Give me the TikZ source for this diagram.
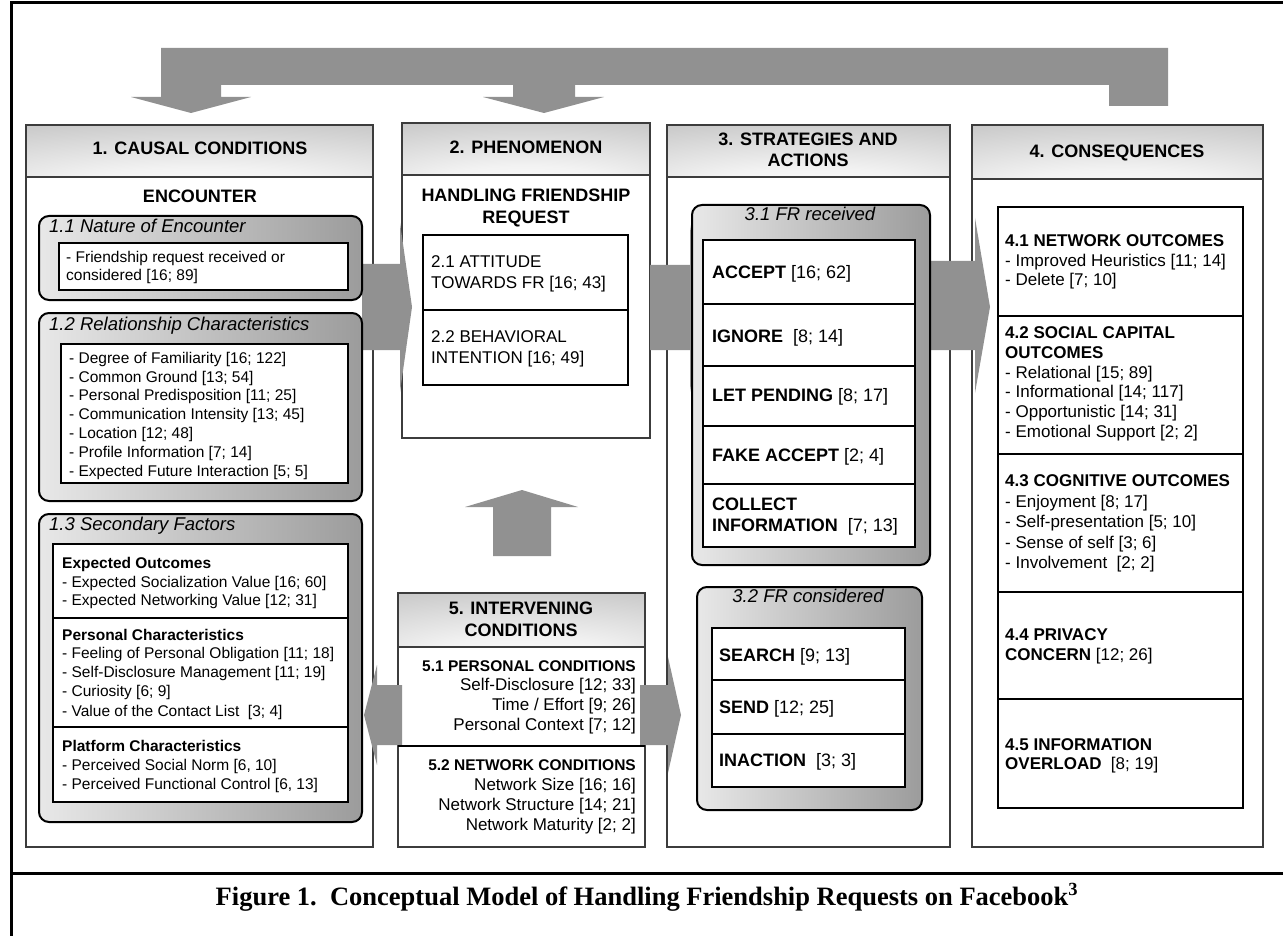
\documentclass[tikz,border=0pt]{standalone}
\usepackage{fontspec}
\setmainfont{Liberation Sans}
\newfontfamily\serifcap{Liberation Serif}
\usetikzlibrary{calc}
\definecolor{arrowgray}{RGB}{145,145,145}
\definecolor{linegray}{RGB}{60,60,60}
\pgfdeclareradialshading{hdrshade}{\pgfpoint{0bp}{-45bp}}{color(0bp)=(white); color(20bp)=(gray!10); color(50bp)=(gray!40); color(80bp)=(gray!68); color(100bp)=(gray!72)}
\newcommand\bx[6]{\node[#1, inner sep=0, outer sep=0, anchor=north west, minimum width={(#5-#3)*1pt}, minimum height={(#6-#4)*1pt}] (#2) at (#3,#4) {};}
\tikzset{
  colbox/.style={draw=linegray, line width=1.2pt, fill=white},
  hdr/.style={draw=linegray, line width=1.2pt, shade, shading=hdrshade},
  rbox/.style={draw=black, line width=2pt, rounded corners=10pt, left color=gray!18, right color=gray!78},
  ibox/.style={draw=black, line width=1.1pt, fill=white},
  ln/.style={draw=black, line width=1.1pt},
  arr/.style={fill=arrowgray, draw=none},
  frame/.style={draw=black, line width=3pt},
  hdrtxt/.style={font=\fontsize{18}{21.6}\selectfont\bfseries, inner sep=0, anchor=base},
  ttl/.style={font=\fontsize{18.5}{22}\selectfont\itshape, inner sep=0, anchor=base west},
  b15/.style={font=\fontsize{15.5}{18.6}\selectfont, inner sep=0, anchor=base west},
  b17/.style={font=\fontsize{17}{20.4}\selectfont, inner sep=0, anchor=base west},
  b18/.style={font=\fontsize{18}{21.6}\selectfont, inner sep=0, anchor=base west},
  r17/.style={font=\fontsize{17}{20.4}\selectfont, inner sep=0, anchor=base east},
}
\begin{document}
\begin{tikzpicture}[x=1pt,y=-1pt]
\useasboundingbox[fill=white] (0,0) rectangle (1283,936);
% frame
\draw[frame] (11,936) -- (11,3) -- (1283,3);
\draw[frame] (11,873) -- (1283,873);
% top feedback arrow
\fill[arr] (161,48) -- (1168,48) -- (1168,106) -- (1109,106) -- (1109,85) -- (575,85) -- (575,97) -- (604,97) -- (544,113) -- (483,97) -- (513,97) -- (513,85) -- (221,85) -- (221,97) -- (251,97) -- (191,113) -- (131,97) -- (161,97) -- cycle;
% columns
\bx{colbox}{c1body}{26}{177}{373}{847}
\bx{hdr}{c1hdr}{26}{125}{373}{177}
\bx{colbox}{c2body}{402}{175}{650}{438}
\bx{hdr}{c2hdr}{402}{123}{650}{175}
\bx{colbox}{c3body}{667}{177}{950}{847}
\bx{hdr}{c3hdr}{667}{125}{950}{177}
\bx{colbox}{c4body}{972}{179}{1263}{847}
\bx{hdr}{c4hdr}{972}{125}{1263}{179}
\bx{colbox}{c5body}{398}{647}{645}{847}
\bx{hdr}{c5hdr}{398}{593}{645}{647}
% header texts
\node[hdrtxt] (t1) at (200,155) {1. CAUSAL CONDITIONS};
\node[hdrtxt] (t2) at (526,153.3) {2. PHENOMENON};
\node[hdrtxt] (t3a) at (808,145.7) {3. STRATEGIES AND};
\node[hdrtxt] (t3b) at (808,166.7) {ACTIONS};
\node[hdrtxt] (t4) at (1117,157.3) {4. CONSEQUENCES};
\node[hdrtxt] (t5a) at (521,614) {5. INTERVENING};
\node[hdrtxt] (t5b) at (521,636) {CONDITIONS};
% arrows between columns
\fill[arr] (362,264) -- (400,264) -- (400,223) -- (412,307) -- (400,392) -- (400,350) -- (362,350) -- cycle;
\fill[arr] (650,265) -- (690,265) -- (690,225) -- (702,307) -- (690,392) -- (690,350) -- (650,350) -- cycle;
\fill[arr] (930,261) -- (975,261) -- (975,218) -- (990,307) -- (975,393) -- (975,350) -- (930,350) -- cycle;
\fill[arr] (493,556) -- (493,507) -- (465,507) -- (522,490) -- (578,507) -- (551,507) -- (551,556) -- cycle;
\fill[arr] (402,685) -- (377,685) -- (377,665) -- (364,715) -- (377,765) -- (377,745) -- (402,745) -- cycle;
\fill[arr] (640,685) -- (668,685) -- (668,657) -- (681,715) -- (668,773) -- (668,745) -- (640,745) -- cycle;
% column 1
\node[hdrtxt] (enc) at (200,203) {ENCOUNTER};
\bx{rbox}{r11}{39}{216}{362}{300}
\bx{ibox}{i11}{59}{243}{348}{290}
\node[ttl] (t11) at (49,233) {1.1 Nature of Encounter};
\node[b15] (l11a) at (66,262) {- Friendship request received or};
\node[b15] (l11b) at (66,280.5) {considered [16; 89]};
\bx{rbox}{r12}{39}{313}{362}{501}
\bx{ibox}{i12}{61}{344}{348}{483}
\node[ttl] (t12) at (49,330) {1.2 Relationship Characteristics};
\node[b15] (l12a) at (69,363.3) {- Degree of Familiarity [16; 122]};
\node[b15] (l12b) at (69,382.1) {- Common Ground [13; 54]};
\node[b15] (l12c) at (69,400.9) {- Personal Predisposition [11; 25]};
\node[b15] (l12d) at (69,419.7) {- Communication Intensity [13; 45]};
\node[b15] (l12e) at (69,438.5) {- Location [12; 48]};
\node[b15] (l12f) at (69,457.3) {- Profile Information [7; 14]};
\node[b15] (l12g) at (69,476.1) {- Expected Future Interaction [5; 5]};
\bx{rbox}{r13}{39}{514}{362}{822}
\bx{ibox}{i13}{53}{544}{348}{802}
\draw[ln] (53,618) -- (348,618);
\draw[ln] (53,727) -- (348,727);
\node[ttl] (t13) at (49,530) {1.3 Secondary Factors};
\node[b15,font=\fontsize{15.5}{18.6}\selectfont\bfseries] (l13a) at (62,568) {Expected Outcomes};
\node[b15] (l13b) at (62,587) {- Expected Socialization Value [16; 60]};
\node[b15] (l13c) at (62,605.7) {- Expected Networking Value [12; 31]};
\node[b15,font=\fontsize{15.5}{18.6}\selectfont\bfseries] (l13d) at (62,640.7) {Personal Characteristics};
\node[b15] (l13e) at (62,658.5) {- Feeling of Personal Obligation [11; 18]};
\node[b15] (l13f) at (62,677.7) {- Self-Disclosure Management [11; 19]};
\node[b15] (l13g) at (62,696.7) {- Curiosity [6; 9]};
\node[b15] (l13h) at (62,716) {- Value of the Contact List\ \ [3; 4]};
\node[b15,font=\fontsize{15.5}{18.6}\selectfont\bfseries] (l13i) at (62,751.7) {Platform Characteristics};
\node[b15] (l13j) at (62,770.3) {- Perceived Social Norm [6, 10]};
\node[b15] (l13k) at (62,789) {- Perceived Functional Control [6, 13]};
% column 2
\node[hdrtxt] (hfr1) at (526,201.7) {HANDLING FRIENDSHIP};
\node[hdrtxt] (hfr2) at (526,223.3) {REQUEST};
\bx{ibox}{i2}{423}{235}{628}{385}
\draw[ln] (423,310) -- (628,310);
\node[b17] (l21a) at (431,267.7) {2.1 ATTITUDE};
\node[b17] (l21b) at (431,288.3) {TOWARDS FR [16; 43]};
\node[b17] (l22a) at (431,342.7) {2.2 BEHAVIORAL};
\node[b17] (l22b) at (431,363.3) {INTENTION [16; 49]};
% column 3
\bx{rbox}{r31}{692}{205}{930}{565}
\bx{ibox}{i31}{703}{240}{915}{547}
\draw[ln] (703,304) -- (915,304);
\draw[ln] (703,366) -- (915,366);
\draw[ln] (703,426) -- (915,426);
\draw[ln] (703,484) -- (915,484);
\node[ttl,anchor=base] (t31) at (810,220.7) {3.1 FR received};
\node[b18] (a1) at (712,278.3) {\textbf{ACCEPT} [16; 62]};
\node[b18] (a2) at (712,342.3) {\textbf{IGNORE}\ \ [8; 14]};
\node[b18] (a3) at (712,401.7) {\textbf{LET PENDING} [8; 17]};
\node[b18] (a4) at (712,461.7) {\textbf{FAKE ACCEPT} [2; 4]};
\node[b18] (a5) at (712,510) {\textbf{COLLECT}};
\node[b18] (a6) at (712,531.7) {\textbf{INFORMATION}\ \ [7; 13]};
\bx{rbox}{r32}{697}{587}{922}{810}
\bx{ibox}{i32}{712}{628}{905}{787}
\draw[ln] (712,680) -- (905,680);
\draw[ln] (712,734) -- (905,734);
\node[ttl,anchor=base] (t32) at (808,602.7) {3.2 FR considered};
\node[b18] (s1) at (719,661.7) {\textbf{SEARCH} [9; 13]};
\node[b18] (s2) at (719,713.3) {\textbf{SEND} [12; 25]};
\node[b18] (s3) at (719,766) {\textbf{INACTION}\ \ [3; 3]};
% column 4
\bx{ibox}{i4}{998}{207}{1243}{808}
\draw[ln] (998,316) -- (1243,316);
\draw[ln] (998,454) -- (1243,454);
\draw[ln] (998,592) -- (1243,592);
\draw[ln] (998,699) -- (1243,699);
\node[b17,font=\fontsize{17}{20.4}\selectfont\bfseries] (n41) at (1005,246.7) {4.1 NETWORK OUTCOMES};
\node[b17] (n41a) at (1005,266.7) {- Improved Heuristics [11; 14]};
\node[b17] (n41b) at (1005,285.7) {- Delete [7; 10]};
\node[b17,font=\fontsize{17}{20.4}\selectfont\bfseries] (n42) at (1005,338.3) {4.2 SOCIAL CAPITAL};
\node[b17,font=\fontsize{17}{20.4}\selectfont\bfseries] (n42b) at (1005,358.3) {OUTCOMES};
\node[b17] (n42c) at (1005,378.3) {- Relational [15; 89]};
\node[b17] (n42d) at (1005,397.9) {- Informational [14; 117]};
\node[b17] (n42e) at (1005,417.5) {- Opportunistic [14; 31]};
\node[b17] (n42f) at (1005,437.5) {- Emotional Support [2; 2]};
\node[b17,font=\fontsize{17}{20.4}\selectfont\bfseries] (n43) at (1005,486.7) {4.3 COGNITIVE OUTCOMES};
\node[b17] (n43a) at (1005,507.3) {- Enjoyment [8; 17]};
\node[b17] (n43b) at (1005,527) {- Self-presentation [5; 10]};
\node[b17] (n43c) at (1005,548) {- Sense of self [3; 6]};
\node[b17] (n43d) at (1005,568.3) {- Involvement\ \ [2; 2]};
\node[b17] (n44) at (1005,640) {\textbf{4.4 PRIVACY}};
\node[b17] (n44b) at (1005,660.7) {\textbf{CONCERN} [12; 26]};
\node[b17] (n45) at (1005,750) {\textbf{4.5 INFORMATION}};
\node[b17] (n45b) at (1005,769.5) {\textbf{OVERLOAD}\ \ [8; 19]};
% column 5
\draw[ln] (398,746) -- (645,746);
\node[r17,font=\fontsize{15.5}{18.6}\selectfont\bfseries] (p51) at (636,671) {5.1 PERSONAL CONDITIONS};
\node[r17] (p51a) at (636,690) {Self-Disclosure [12; 33]};
\node[r17] (p51b) at (636,710) {Time / Effort [9; 26]};
\node[r17] (p51c) at (636,730.7) {Personal Context [7; 12]};
\node[r17,font=\fontsize{15.5}{18.6}\selectfont\bfseries] (p52) at (636,770.7) {5.2 NETWORK CONDITIONS};
\node[r17] (p52a) at (636,790.7) {Network Size [16; 16]};
\node[r17] (p52b) at (636,810.7) {Network Structure [14; 21]};
\node[r17] (p52c) at (636,830.5) {Network Maturity [2; 2]};
% caption
\node[inner sep=0, anchor=base, font=\fontsize{26.5}{30}\serifcap\bfseries\selectfont] (cap) at (647,905) {Figure 1.\ \ Conceptual Model of Handling Friendship Requests on Facebook\textsuperscript{3}};
\end{tikzpicture}
\end{document}
